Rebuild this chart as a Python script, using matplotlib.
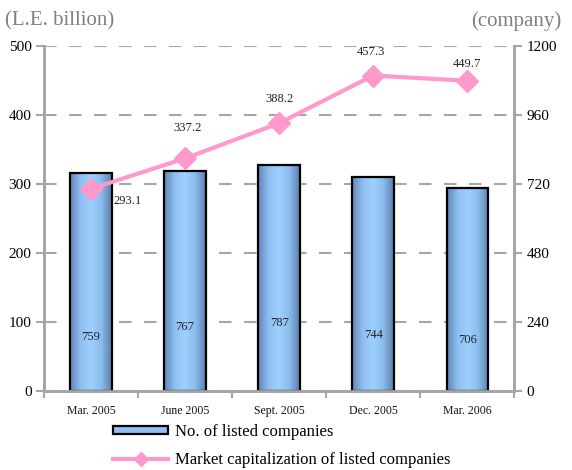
import numpy as np
from matplotlib import pyplot as plt
from matplotlib.colors import LinearSegmentedColormap
from matplotlib.lines import Line2D
from matplotlib.patches import Rectangle

# data
periods = ['Mar. 2005', 'June 2005', 'Sept. 2005', 'Dec. 2005', 'Mar. 2006']
companies = [759, 767, 787, 744, 706]
market_cap = [293.1, 337.2, 388.2, 457.3, 449.7]

# label placement (pixels)
cap_offsets = [(37, -12), (2, 30), (0, 24), (-2, 24), (0, 17)]
bar_label_px = [54, 64, 68, 56, 51]

plt.rcParams['font.family'] = ['Liberation Serif', 'DejaVu Serif']
gray = '#a6a6a6'
pink = '#ff99cc'

fig = plt.figure(figsize=(5.72, 4.70), dpi=100)
ax = fig.add_axes([0.077, 0.168, 0.822, 0.734])
ax2 = ax.twinx()
ax.set_zorder(ax2.get_zorder() + 1)
ax.patch.set_visible(False)

x = np.arange(len(periods))

# bars on the company axis with a cylinder-like gradient
cmap = LinearSegmentedColormap.from_list(
    'cyl', ['#5f86b6', '#8fbff0', '#9dd0ff', '#8cbcec', '#5a80ae'])
grad = np.linspace(0, 1, 64).reshape(1, -1)
bars = ax2.bar(x, companies, width=0.44, facecolor='none', edgecolor='black',
               linewidth=1.6, zorder=3)
for b in bars:
    im = ax2.imshow(grad, cmap=cmap, aspect='auto', zorder=2,
                    extent=[b.get_x(), b.get_x() + b.get_width(), 0, b.get_height()])
    im.set_clip_path(b)

for i, v in enumerate(companies):
    ax2.annotate(str(v), (x[i], 0), xytext=(0, bar_label_px[i]),
                 textcoords='offset pixels', ha='center', va='center',
                 fontsize=9, color='#222222', zorder=4)

# market cap line on the left axis
ax.plot(x, market_cap, color=pink, linewidth=3, marker='D', markersize=11,
        markeredgecolor=pink, zorder=5)
for i, v in enumerate(market_cap):
    ax.annotate(f'{v:.1f}', (x[i], v), xytext=cap_offsets[i],
                textcoords='offset pixels', ha='center', va='center',
                fontsize=9, color='#222222')

ax.set_xlim(-0.5, 4.5)
ax.set_ylim(0, 500)
ax2.set_ylim(0, 1200)
ax.set_yticks(range(0, 501, 100))
ax2.set_yticks(range(0, 1201, 240))

ax2.yaxis.grid(True, color=gray, linewidth=1.5, linestyle=(0, (6, 6)))
ax2.set_axisbelow(True)

ax.set_xticks(x)
ax.set_xticklabels(periods, fontsize=8.5, color='#111111')
ax.set_xticks(np.arange(-0.5, 5, 1), minor=True)
ax.tick_params(axis='x', which='major', length=0, pad=10)
ax.tick_params(axis='x', which='minor', length=5, width=1.5, color=gray)
ax.tick_params(axis='y', length=6, width=1.5, color=gray, labelsize=11, pad=3)
ax2.tick_params(axis='y', length=6, width=1.5, color=gray, labelsize=11, pad=3)

for a in (ax, ax2):
    a.spines['top'].set_visible(False)
    for s in ('left', 'right', 'bottom'):
        a.spines[s].set_color(gray)
        a.spines[s].set_linewidth(2)

fig.text(0.008, 0.955, '(L.E. billion)', fontsize=15, color='#808080', va='center')
fig.text(0.982, 0.955, '(company)', fontsize=15, color='#808080', va='center', ha='right')

handles = [Rectangle((0, 0), 1, 1, facecolor='#8fbff0', edgecolor='black', linewidth=1.6),
           Line2D([], [], color=pink, linewidth=3, marker='D', markersize=7)]
fig.legend(handles, ['No. of listed companies', 'Market capitalization of listed companies'],
           loc='upper left', bbox_to_anchor=(0.198, 0.098), frameon=False, fontsize=12,
           handlelength=3.3, handleheight=0.35, labelspacing=0.75, handletextpad=0.4,
           borderaxespad=0, borderpad=0)

fig.savefig('out.png', dpi=100)
